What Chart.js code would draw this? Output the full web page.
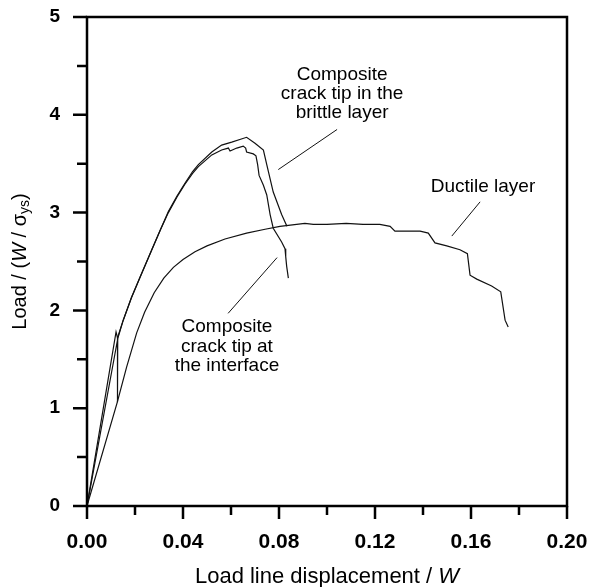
<!DOCTYPE html>
<html>
<head>
<meta charset="utf-8">
<script src="https://cdn.jsdelivr.net/npm/chart.js@4.4.0/dist/chart.umd.min.js"></script>
<style>
body { margin: 0; background: #fff; }
#wrap { width: 589px; height: 587px; }
</style>
</head>
<body>
<div id="wrap"><canvas id="myChart" width="589" height="587"></canvas></div>
<script>
// axis ticks (major get labels, minor are only marks)
var xTicks = [0, 0.04, 0.08, 0.12, 0.16, 0.20];
var xMinor = [0.02, 0.06, 0.10, 0.14, 0.18];
var yTicks = [0, 1, 2, 3, 4, 5];
var yMinor = [0.5, 1.5, 2.5, 3.5, 4.5];

// composite, crack tip in the brittle layer (outer curve)
var brittleX = [0, 0.0121, 0.0128, 0.0151, 0.0185, 0.0221, 0.0270, 0.0305, 0.0339, 0.0375, 0.0408, 0.0440, 0.0464, 0.0520, 0.0561, 0.0603, 0.0640, 0.0665, 0.0700, 0.0735, 0.0749, 0.0776, 0.0811, 0.0833];
var brittleY = [0, 1.78, 1.71, 1.90, 2.13, 2.34, 2.62, 2.82, 3.01, 3.17, 3.30, 3.42, 3.49, 3.62, 3.69, 3.72, 3.75, 3.77, 3.71, 3.64, 3.49, 3.21, 2.98, 2.86];

// composite, crack tip at the interface (inner curve)
var interfaceX = [0, 0.0128, 0.0126, 0.0128, 0.0151, 0.0185, 0.0221, 0.0270, 0.0305, 0.0339, 0.0375, 0.0408, 0.0440, 0.0464, 0.0520, 0.0561, 0.0589, 0.0596, 0.0624, 0.0651, 0.0661, 0.0665, 0.0693, 0.0704, 0.0711, 0.0717, 0.0735, 0.0749, 0.0763, 0.0776, 0.0811, 0.0825, 0.0828, 0.0832, 0.0839];
var interfaceY = [0, 1.71, 1.06, 1.72, 1.90, 2.13, 2.34, 2.62, 2.82, 3.00, 3.16, 3.29, 3.40, 3.47, 3.59, 3.64, 3.66, 3.63, 3.66, 3.68, 3.66, 3.62, 3.60, 3.58, 3.49, 3.38, 3.28, 3.18, 2.98, 2.84, 2.70, 2.63, 2.55, 2.45, 2.33];

// ductile layer
var ductileX = [0, 0.0126, 0.0165, 0.0207, 0.0240, 0.0280, 0.0320, 0.0360, 0.0400, 0.0450, 0.0500, 0.0575, 0.0665, 0.0742, 0.0804, 0.0908, 0.0943, 0.1000, 0.1080, 0.1150, 0.1220, 0.1263, 0.1283, 0.1388, 0.1422, 0.1450, 0.1499, 0.1554, 0.1585, 0.1596, 0.1624, 0.1686, 0.1724, 0.1742, 0.1755];
var ductileY = [0, 1.06, 1.42, 1.77, 1.98, 2.18, 2.33, 2.44, 2.52, 2.60, 2.66, 2.73, 2.79, 2.83, 2.86, 2.89, 2.88, 2.88, 2.89, 2.88, 2.88, 2.86, 2.81, 2.81, 2.79, 2.69, 2.66, 2.62, 2.58, 2.36, 2.32, 2.25, 2.19, 1.90, 1.83];

// leader lines from the labels to the curves
var brittleLeaderX = [0.0797, 0.1042];
var brittleLeaderY = [3.44, 3.85];
var ductileLeaderX = [0.1520, 0.1638];
var ductileLeaderY = [2.76, 3.11];
var interfaceLeaderX = [0.0792, 0.0588];
var interfaceLeaderY = [2.54, 1.97];

// label texts
var brittleLabel = ['Composite', 'crack tip in the', 'brittle layer'];
var ductileLabel = ['Ductile layer'];
var interfaceLabel = ['Composite', 'crack tip at', 'the interface'];

function toPoints(xs, ys) {
    return xs.map(function (x, i) { return { x: x, y: ys[i] }; });
}

function line(xs, ys, w) {
    return {
        data: toPoints(xs, ys),
        showLine: true,
        borderColor: '#111',
        borderWidth: w,
        pointRadius: 0,
        tension: 0,
        fill: false
    };
}

var fam = '"Liberation Sans", Arial, sans-serif';

// frame, tick marks, axis titles and labels
var decor = {
    id: 'decor',
    afterDraw: function (chart) {
        var ctx = chart.ctx;
        var a = chart.chartArea;
        var xs = chart.scales.x;
        var ys = chart.scales.y;
        ctx.save();
        ctx.strokeStyle = '#000';
        ctx.lineWidth = 2.5;
        ctx.strokeRect(a.left, a.top, a.right - a.left, a.bottom - a.top);

        ctx.beginPath();
        yTicks.forEach(function (v) {
            var p = ys.getPixelForValue(v);
            ctx.moveTo(a.left - 14, p); ctx.lineTo(a.left, p);
        });
        yMinor.forEach(function (v) {
            var p = ys.getPixelForValue(v);
            ctx.moveTo(a.left - 10, p); ctx.lineTo(a.left, p);
        });
        xTicks.forEach(function (v) {
            var p = xs.getPixelForValue(v);
            ctx.moveTo(p, a.bottom); ctx.lineTo(p, a.bottom + 13);
        });
        xMinor.forEach(function (v) {
            var p = xs.getPixelForValue(v);
            ctx.moveTo(p, a.bottom); ctx.lineTo(p, a.bottom + 9);
        });
        ctx.stroke();

        ctx.fillStyle = '#000';
        ctx.textBaseline = 'middle';

        // curve labels
        function block(lines, x, yTop, gap) {
            ctx.font = '19px ' + fam;
            ctx.textAlign = 'center';
            var px = xs.getPixelForValue(x);
            var py = ys.getPixelForValue(yTop);
            lines.forEach(function (t, i) { ctx.fillText(t, px, py + i * gap); });
        }
        block(brittleLabel, 0.1063, 4.41, 19);
        block(ductileLabel, 0.165, 3.26, 19);
        block(interfaceLabel, 0.0583, 1.83, 19.5);

        // run of text pieces with mixed styles, centred on 0
        function pieces(parts) {
            var total = 0;
            parts.forEach(function (p) { ctx.font = p.f; total += ctx.measureText(p.t).width; });
            var x = -total / 2;
            ctx.textAlign = 'left';
            parts.forEach(function (p) {
                ctx.font = p.f;
                ctx.fillText(p.t, x, p.dy || 0);
                x += ctx.measureText(p.t).width;
            });
        }

        // x title
        ctx.save();
        ctx.translate((a.left + a.right) / 2, 577);
        pieces([{ t: 'Load line displacement / ', f: '22px ' + fam }, { t: 'W', f: 'italic 22px ' + fam }]);
        ctx.restore();

        // y title
        ctx.save();
        ctx.translate(20, (a.top + a.bottom) / 2);
        ctx.rotate(-Math.PI / 2);
        pieces([
            { t: 'Load / (', f: '20px ' + fam },
            { t: 'W', f: 'italic 20px ' + fam },
            { t: ' / \u03c3', f: '20px ' + fam },
            { t: 'ys', f: '14px ' + fam, dy: 5 },
            { t: ')', f: '20px ' + fam }
        ]);
        ctx.restore();

        ctx.restore();
    }
};

new Chart(document.getElementById('myChart'), {
    type: 'scatter',
    data: {
        datasets: [
            line(brittleX, brittleY, 1.2),
            line(interfaceX, interfaceY, 1.2),
            line(ductileX, ductileY, 1.2),
            line(brittleLeaderX, brittleLeaderY, 1),
            line(ductileLeaderX, ductileLeaderY, 1),
            line(interfaceLeaderX, interfaceLeaderY, 1)
        ]
    },
    options: {
        responsive: false,
        animation: false,
        layout: { padding: 0 },
        plugins: {
            legend: { display: false },
            tooltip: { enabled: false }
        },
        scales: {
            x: {
                type: 'linear',
                min: 0,
                max: 0.2,
                afterBuildTicks: function (s) { s.ticks = xTicks.map(function (v) { return { value: v }; }); },
                afterFit: function (s) { s.height = 81; s.paddingLeft = 0; s.paddingRight = 22; },
                grid: { drawOnChartArea: false, tickLength: 24, tickColor: 'rgba(0,0,0,0)' },
                border: { display: false },
                ticks: {
                    padding: 0,
                    color: '#000',
                    font: { family: fam, size: 21, weight: 'bold' },
                    maxRotation: 0,
                    callback: function (v) { return v.toFixed(2); }
                }
            },
            y: {
                type: 'linear',
                min: 0,
                max: 5,
                afterBuildTicks: function (s) { s.ticks = yTicks.map(function (v) { return { value: v }; }); },
                afterFit: function (s) { s.width = 87; s.paddingTop = 17; s.paddingBottom = 0; },
                grid: { drawOnChartArea: false, tickLength: 14, tickColor: 'rgba(0,0,0,0)' },
                border: { display: false },
                ticks: {
                    padding: 13,
                    color: '#000',
                    font: { family: fam, size: 19, weight: 'bold' },
                    callback: function (v) { return String(v); }
                }
            }
        }
    },
    plugins: [decor]
});
</script>
</body>
</html>
